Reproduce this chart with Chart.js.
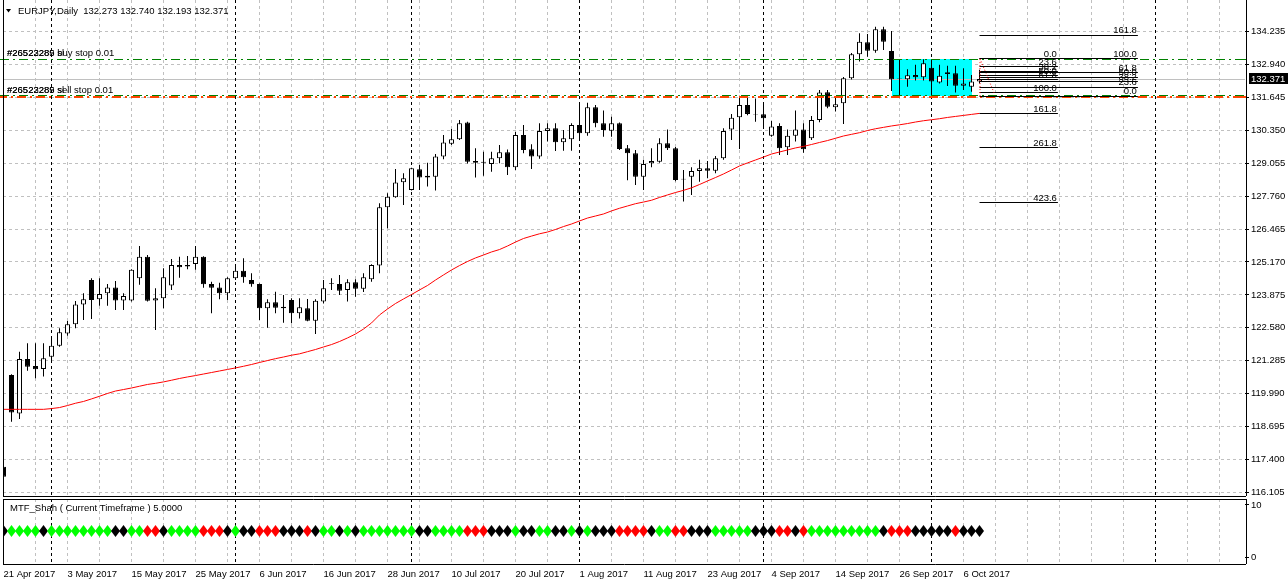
<!DOCTYPE html>
<html>
<head>
<meta charset="utf-8">
<title>EURJPY Daily</title>
<script src="https://cdn.jsdelivr.net/npm/chart.js@4.4.1/dist/chart.umd.min.js"></script>
<style>
  html, body { margin: 0; padding: 0; background: #fff; }
  #wrap { position: relative; width: 1288px; height: 585px; overflow: hidden; background: #fff; }
  canvas { position: absolute; left: 0; }
  #main { top: 0; }
  #sub { top: 497px; }
</style>
</head>
<body>
<div id="wrap">
  <canvas id="main" width="1288" height="497" style="width:1288px;height:497px"></canvas>
  <canvas id="sub" width="1288" height="88" style="width:1288px;height:88px"></canvas>
</div>
<script>
// ---- values (bar 0 = 21 Apr 2017, bar 122 = 10 Oct 2017) ----
const headerText = "EURJPY,Daily  132.273 132.740 132.193 132.371";

const opens = [
  117.11,120.72,119.21,121.35,121.08,120.96,121.44,121.87,122.36,122.72,
  123.50,124.46,123.70,123.94,124.17,123.65,123.65,124.53,125.38,123.65,
  123.74,124.24,125.05,124.99,125.09,125.38,124.30,124.17,123.94,124.53,
  124.83,124.46,124.30,123.35,123.59,123.41,123.67,123.15,123.35,122.86,
  123.61,124.31,124.30,124.07,124.37,124.12,124.49,125.03,127.32,127.72,
  128.31,128.00,128.82,128.56,128.53,129.32,129.82,130.00,130.66,129.15,
  129.12,129.03,129.25,129.49,128.90,130.17,129.61,129.32,130.33,130.43,
  129.88,130.00,130.56,130.24,131.26,130.63,130.34,130.63,129.65,129.45,
  128.53,129.06,129.12,129.84,129.65,128.45,128.53,128.75,128.86,128.76,
  129.25,130.39,130.87,131.35,131.00,130.99,130.14,130.52,129.69,130.14,
  130.39,130.04,130.76,131.85,131.26,131.42,132.40,133.35,133.82,133.49,
  134.33,133.48,132.40,132.36,132.53,132.44,132.82,132.24,132.64,132.60,
  132.11,132.07,132.273
];
const highs = [
  117.31,120.75,121.64,121.97,121.97,121.97,122.17,122.56,122.85,123.63,
  123.94,124.53,124.53,124.30,124.42,123.94,124.88,125.80,125.45,124.14,
  124.92,125.29,125.38,125.41,125.80,125.40,124.39,124.35,124.57,125.08,
  125.32,124.73,124.32,123.70,124.00,123.87,123.74,123.74,123.71,123.70,
  124.46,124.53,124.66,124.49,124.49,124.73,125.08,127.48,127.88,128.83,
  128.66,128.88,128.99,129.08,129.42,130.17,130.41,130.76,130.69,129.65,
  129.51,129.51,129.78,129.60,130.30,130.56,129.80,130.63,130.63,130.63,
  130.37,130.63,131.40,131.44,131.35,131.13,130.89,130.66,129.78,129.58,
  129.19,129.65,130.04,130.39,129.70,128.79,128.90,129.19,129.15,129.34,
  130.43,131.00,131.71,131.70,131.61,131.38,130.72,130.63,130.39,131.13,
  130.63,130.92,131.94,131.94,131.68,132.45,133.40,134.17,134.14,134.43,
  134.43,134.26,133.15,132.76,132.93,133.15,133.15,132.93,132.89,132.89,
  132.80,132.53,132.740
];
const lows = [
  116.39,118.88,118.99,120.89,120.59,120.66,121.29,121.83,122.27,122.56,
  122.89,122.93,123.45,123.45,123.28,123.28,123.61,124.27,123.61,122.49,
  123.35,124.07,124.55,124.88,124.86,124.16,123.15,123.70,123.67,124.46,
  124.35,124.20,122.89,122.58,123.15,122.78,122.76,122.95,122.84,122.34,
  123.54,124.07,123.87,123.61,123.80,123.99,124.39,124.73,126.50,127.70,
  127.41,127.98,128.00,128.14,127.98,129.21,129.78,129.97,129.05,128.50,
  128.56,128.72,129.06,128.59,128.79,129.45,128.83,129.23,129.91,129.54,
  129.55,129.55,129.97,130.14,130.47,130.10,130.10,129.58,128.39,128.20,
  128.00,128.90,129.08,129.58,128.35,127.55,127.81,128.33,128.47,128.66,
  129.19,129.97,129.62,130.95,130.69,130.50,130.10,129.38,129.38,129.91,
  129.47,129.97,130.67,131.22,131.09,130.60,132.35,133.06,133.25,133.41,
  133.51,131.90,131.74,132.07,132.31,132.31,131.74,132.20,132.10,131.84,
  131.94,131.87,132.193
];
const closes = [
  116.72,119.25,121.35,121.05,120.95,121.38,121.87,122.40,122.72,123.50,
  123.70,123.67,123.91,124.17,123.65,123.83,124.86,125.38,123.64,123.74,
  124.57,125.05,124.96,125.05,125.38,124.29,124.16,123.94,124.53,124.83,
  124.57,124.29,123.35,123.59,123.37,123.35,123.15,123.39,122.86,123.64,
  124.14,124.34,124.04,124.37,124.12,124.57,125.05,127.32,127.74,128.30,
  128.47,128.86,128.50,128.50,129.32,129.87,130.00,130.63,129.12,129.08,
  129.08,129.25,129.49,128.90,130.17,129.58,129.32,130.33,130.43,129.88,
  130.04,130.56,130.24,131.26,130.63,130.37,130.63,129.62,129.45,128.53,
  129.03,129.15,129.84,129.65,128.40,128.42,128.75,128.86,128.76,129.25,
  130.33,130.85,131.35,131.00,130.98,130.83,130.50,129.65,130.14,130.39,
  129.61,130.76,131.84,131.28,131.38,132.40,133.35,133.84,133.49,134.33,
  133.84,132.36,132.38,132.52,132.44,132.99,132.27,132.50,132.57,132.11,
  132.20,132.27,132.371
];
// red moving average
const maValues = [
  119.37,119.37,119.37,119.37,119.37,119.37,119.40,119.44,119.52,119.61,
  119.68,119.78,119.885,119.995,120.09,120.15,120.21,120.28,120.35,120.395,
  120.45,120.515,120.585,120.645,120.70,120.76,120.82,120.88,120.94,121.00,
  121.065,121.135,121.215,121.29,121.365,121.43,121.50,121.555,121.64,121.725,
  121.825,121.92,122.04,122.18,122.335,122.53,122.77,123.085,123.32,123.535,
  123.715,123.89,124.07,124.245,124.46,124.66,124.855,125.03,125.19,125.33,
  125.445,125.565,125.66,125.80,125.955,126.095,126.19,126.28,126.35,126.45,
  126.565,126.665,126.785,126.90,126.98,127.06,127.18,127.285,127.375,127.465,
  127.53,127.60,127.71,127.81,127.905,127.99,128.09,128.22,128.36,128.495,
  128.635,128.79,128.95,129.07,129.185,129.30,129.42,129.50,129.58,129.66,
  129.72,129.795,129.875,129.95,130.04,130.13,130.195,130.26,130.345,130.415,
  130.47,130.525,130.57,130.62,130.68,130.73,130.77,130.81,130.86,130.90,
  130.94,130.98,131.02
];
// MTF_Shah state per bar: g = green, r = red, k = black
const mtfState = ("kggggk gggggggg kk gg rr k gggg rrr k g kk rrr kkk r k gg k g k ggggggg kk " +
  "gggg rrr kkk g kk gg kk g k g kkk rrrr k gg rr kkk ggggg kkk rr k r ggggggggg k rrr kkkkk r kkk")
  .replace(/ /g, "").split("");
const mtfLevel = 5;

const priceTicks = [134.235, 132.940, 131.645, 130.350, 129.055, 127.760, 126.465, 125.170,
  123.875, 122.580, 121.285, 119.990, 118.695, 117.400, 116.105];
const subTicks = [0, 10];
const dateLabels = ["21 Apr 2017", "3 May 2017", "15 May 2017", "25 May 2017", "6 Jun 2017",
  "16 Jun 2017", "28 Jun 2017", "10 Jul 2017", "20 Jul 2017", "1 Aug 2017", "11 Aug 2017",
  "23 Aug 2017", "4 Sep 2017", "14 Sep 2017", "26 Sep 2017", "6 Oct 2017"];
const labelStep = 8;          // one date label every 8 bars
const gridStep = 4;           // one vertical grid line every 4 bars
const monthStarts = [6, 29, 51, 72, 95, 116, 144];

// pending orders and drawn objects
const buyStop = 133.16, sellStop = 131.70, bidPrice = 132.371;
const buyTicket = "#26522289", sellTicket = "#26523285";
const boxFromBar = 111, boxToBar = 121, boxTop = 133.16, boxBottom = 131.70;
const fibA = { fromBar: 122, toBar: 131.8, p0: 133.175, p100: 131.835, levels: [0, 23.6, 38.2, 50, 61.8, 100, 161.8, 261.8, 423.6] };
const fibB = { fromBar: 122, toBar: 141.8, p0: 131.70, p100: 133.175, levels: [0, 23.6, 38.2, 50, 61.8, 100, 161.8] };

// ---- layout ----
const FONT = '9.5px "Liberation Sans", Arial, sans-serif';
const PLOT_LEFT = 3, PLOT_RIGHT = 1245, CANVAS_W = 1288, BAR_PX = 8;
const xMin = -0.5 / BAR_PX;
const xMax = xMin + (PLOT_RIGHT - PLOT_LEFT) / BAR_PX;
const gridBars = [];
for (let b = 0; b * BAR_PX < PLOT_RIGHT; b += gridStep) gridBars.push(b);

Chart.defaults.font.family = '"Liberation Sans", Arial, sans-serif';
Chart.defaults.font.size = 9.5;
Chart.defaults.color = "#000";

function hLine(ctx, x1, x2, y) {
  const yy = Math.round(y - 0.5) + 0.5;
  ctx.beginPath(); ctx.moveTo(x1, yy); ctx.lineTo(x2, yy); ctx.stroke();
}
function vLine(ctx, x, y1, y2) {
  const xx = Math.round(x - 0.5) + 0.5;
  ctx.beginPath(); ctx.moveTo(xx, y1); ctx.lineTo(xx, y2); ctx.stroke();
}
function drawSeparators(chart) {
  const { ctx, chartArea: a, scales: { x } } = chart;
  ctx.save();
  ctx.strokeStyle = "#000"; ctx.lineWidth = 1; ctx.setLineDash([3, 3]);
  monthStarts.forEach((b) => {
    const px = x.getPixelForValue(b);
    if (px < a.right) vLine(ctx, px, a.top, a.bottom);
  });
  ctx.restore();
}
function drawFib(ctx, x, y, fib) {
  const x1 = x.getPixelForValue(fib.fromBar), x2 = x.getPixelForValue(fib.toBar);
  ctx.strokeStyle = "#000"; ctx.fillStyle = "#000"; ctx.lineWidth = 1; ctx.setLineDash([]);
  ctx.textAlign = "right"; ctx.textBaseline = "alphabetic";
  fib.levels.forEach((lv) => {
    const py = y.getPixelForValue(fib.p0 + (fib.p100 - fib.p0) * lv / 100);
    hLine(ctx, x1, x2, py);
    ctx.fillText(lv.toFixed(1), x2 - 1, Math.round(py) - 2);
  });
  // dotted trend line between the two anchors
  ctx.save();
  ctx.strokeStyle = "#ff0000"; ctx.setLineDash([1, 2]);
  ctx.beginPath();
  ctx.moveTo(x1 + 0.5, y.getPixelForValue(fib.p0));
  ctx.lineTo(x1 + 0.5 + (fib.p0 > fib.p100 ? 14 : 0), y.getPixelForValue(fib.p100));
  ctx.stroke();
  ctx.restore();
}

const mainOverlay = {
  id: "mainOverlay",
  beforeDatasetsDraw(chart) {
    const { ctx, chartArea: a, scales: { x, y } } = chart;
    ctx.save();
    ctx.beginPath(); ctx.rect(a.left, a.top, a.right - a.left, a.bottom - a.top); ctx.clip();
    const bx1 = x.getPixelForValue(boxFromBar), bx2 = x.getPixelForValue(boxToBar);
    const by1 = y.getPixelForValue(boxTop), by2 = y.getPixelForValue(boxBottom);
    ctx.fillStyle = "#00ffff";
    ctx.fillRect(Math.round(bx1), Math.round(by1), Math.round(bx2 - bx1), Math.round(by2 - by1));
    ctx.strokeStyle = "#c0c0c0"; ctx.lineWidth = 1;
    hLine(ctx, a.left, a.right, y.getPixelForValue(bidPrice));
    ctx.restore();
    drawSeparators(chart);
  },
  afterDatasetsDraw(chart) {
    const { ctx, chartArea: a, scales: { x, y } } = chart;
    ctx.save();
    ctx.font = FONT;
    // pending order lines
    const yb = y.getPixelForValue(buyStop), ys = y.getPixelForValue(sellStop);
    ctx.lineWidth = 1; ctx.strokeStyle = "#008000"; ctx.setLineDash([9, 4, 2, 4]);
    hLine(ctx, 0, a.right, yb);
    hLine(ctx, 0, a.right, ys - 1);
    ctx.lineWidth = 2; ctx.strokeStyle = "#ff4500"; ctx.setLineDash([9, 4, 2, 4]); ctx.lineDashOffset = 2;
    ctx.beginPath(); ctx.moveTo(0, Math.round(ys) + 1); ctx.lineTo(a.right, Math.round(ys) + 1); ctx.stroke();
    ctx.lineDashOffset = 0; ctx.setLineDash([]);
    ctx.fillStyle = "#000"; ctx.textAlign = "left"; ctx.textBaseline = "alphabetic";
    ctx.fillText(buyTicket + " buy stop 0.01", 7, Math.round(yb) - 3);
    ctx.fillText(sellTicket + " sl", 7, Math.round(yb) - 3);
    ctx.fillText(sellTicket + " sell stop 0.01", 7, Math.round(ys) - 3);
    ctx.fillText(buyTicket + " sl", 7, Math.round(ys) - 3);
    // fibonacci objects
    drawFib(ctx, x, y, fibA);
    drawFib(ctx, x, y, fibB);
    ctx.restore();
  },
  afterDraw(chart) {
    const { ctx, chartArea: a, scales: { y } } = chart;
    ctx.save();
    ctx.strokeStyle = "#000"; ctx.lineWidth = 1; ctx.setLineDash([]);
    vLine(ctx, a.left, 0, a.bottom + 1);
    vLine(ctx, a.right + 1, 0, a.bottom + 1);
    hLine(ctx, a.left, a.right + 1, a.bottom + 1);
    // header
    ctx.fillStyle = "#000";
    ctx.beginPath(); ctx.moveTo(6, 9); ctx.lineTo(11, 9); ctx.lineTo(8.5, 12.5); ctx.closePath(); ctx.fill();
    ctx.font = FONT; ctx.textAlign = "left"; ctx.textBaseline = "alphabetic";
    ctx.fillText(headerText, 18, 14);
    // order marks on the price axis
    ctx.fillStyle = "#008000"; ctx.fillRect(a.right - 3, Math.round(y.getPixelForValue(buyStop)), 4, 1);
    ctx.fillStyle = "#ff4500"; ctx.fillRect(a.right - 3, Math.round(y.getPixelForValue(sellStop)), 4, 2);
    // bid label
    const py = Math.round(y.getPixelForValue(bidPrice));
    ctx.fillStyle = "#000"; ctx.fillRect(a.right + 4, py - 6, CANVAS_W - a.right - 4, 11);
    ctx.fillStyle = "#fff"; ctx.textBaseline = "middle";
    ctx.fillText(bidPrice.toFixed(3), a.right + 6, py);
    ctx.restore();
  }
};

const subOverlay = {
  id: "subOverlay",
  beforeDatasetsDraw(chart) { drawSeparators(chart); },
  afterDraw(chart) {
    const { ctx, chartArea: a } = chart;
    ctx.save();
    ctx.strokeStyle = "#000"; ctx.lineWidth = 1;
    hLine(ctx, a.left, a.right + 1, a.top);
    hLine(ctx, a.left, a.right + 1, a.bottom + 1);
    vLine(ctx, a.left, a.top, a.bottom + 1);
    vLine(ctx, a.right + 1, a.top, a.bottom + 1);
    ctx.fillStyle = "#000"; ctx.font = FONT; ctx.textAlign = "left"; ctx.textBaseline = "alphabetic";
    ctx.fillText("MTF_Shah ( Current Timeframe ) " + mtfLevel.toFixed(4), 10, a.top + 12);
    ctx.restore();
  }
};

function zeroPadding(scale) {
  scale.paddingTop = 0; scale.paddingBottom = 0; scale.paddingLeft = 0; scale.paddingRight = 0;
}
function xScale(showLabels) {
  return {
    type: "linear", min: xMin, max: xMax, offset: false,
    afterBuildTicks: (s) => { s.ticks = gridBars.map((v) => ({ value: v })); },
    afterFit: (s) => { s.height = showLabels ? 22 : 2; zeroPadding(s); },
    ticks: {
      display: showLabels, autoSkip: false, maxRotation: 0, minRotation: 0, align: "start", padding: 6, color: "#000",
      callback: (v) => (v % labelStep === 0 && dateLabels[v / labelStep]) ? dateLabels[v / labelStep] : ""
    },
    grid: { color: "#c0c0c0", lineWidth: 1, drawTicks: false, offset: false },
    border: { display: false, dash: [3, 3] }
  };
}

const mainChart = new Chart(document.getElementById("main"), {
  type: "bar",
  data: {
    datasets: [
      {
        type: "line", label: "MA", data: maValues.map((v, i) => ({ x: i, y: v })),
        borderColor: "#ff0000", borderWidth: 1, pointRadius: 0, tension: 0, fill: false
      },
      {
        type: "bar", label: "body", data: opens.map((o, i) => ({ x: i, y: [o, closes[i]] })),
        barThickness: 5, grouped: false, inflateAmount: 0, borderSkipped: false,
        borderWidth: 1, borderColor: "#000",
        backgroundColor: (c) => closes[c.dataIndex] >= opens[c.dataIndex] ? "#ffffff" : "#000000"
      },
      {
        type: "bar", label: "wick", data: lows.map((l, i) => ({ x: i, y: [l, highs[i]] })),
        barThickness: 1, grouped: false, inflateAmount: 0, borderWidth: 0, backgroundColor: "#000"
      }
    ]
  },
  options: {
    responsive: false, animation: false, events: [], devicePixelRatio: 1,
    layout: { autoPadding: false, padding: { left: PLOT_LEFT, top: 0, right: 0, bottom: 0 } },
    plugins: { legend: { display: false }, tooltip: { enabled: false } },
    scales: {
      x: xScale(false),
      y: {
        type: "linear", position: "right", min: 115.998, max: 135.483,
        afterBuildTicks: (s) => { s.ticks = priceTicks.map((v) => ({ value: v })); },
        afterFit: (s) => { s.width = CANVAS_W - PLOT_RIGHT; zeroPadding(s); },
        ticks: { autoSkip: false, padding: 2, color: "#000", callback: (v) => v.toFixed(3) },
        grid: { color: "#c0c0c0", tickColor: "#000", tickLength: 4, tickWidth: 1 },
        border: { display: false, dash: [3, 3] }
      }
    }
  },
  plugins: [mainOverlay]
});

function diamond(color) {
  const c = document.createElement("canvas");
  c.width = 9; c.height = 12;
  const g = c.getContext("2d");
  g.fillStyle = color;
  g.beginPath(); g.moveTo(4.5, 0); g.lineTo(9, 6); g.lineTo(4.5, 12); g.lineTo(0, 6); g.closePath(); g.fill();
  return c;
}
const diamonds = { g: diamond("#00ff00"), r: diamond("#ff0000"), k: diamond("#000000") };

const subChart = new Chart(document.getElementById("sub"), {
  type: "line",
  data: {
    datasets: [{
      label: "MTF_Shah", data: mtfState.map((s, i) => ({ x: i, y: mtfLevel })),
      showLine: false, pointRadius: 5, pointStyle: (c) => diamonds[mtfState[c.dataIndex]]
    }]
  },
  options: {
    responsive: false, animation: false, events: [], devicePixelRatio: 1,
    layout: { autoPadding: false, padding: { left: PLOT_LEFT, top: 2, right: 0, bottom: 0 } },
    plugins: { legend: { display: false }, tooltip: { enabled: false } },
    scales: {
      x: xScale(true),
      y: {
        type: "linear", position: "right", min: -1.1538, max: 11.1538,
        afterBuildTicks: (s) => { s.ticks = subTicks.map((v) => ({ value: v })); },
        afterFit: (s) => { s.width = CANVAS_W - PLOT_RIGHT; zeroPadding(s); },
        ticks: { autoSkip: false, padding: 2, color: "#000", callback: (v) => String(v) },
        grid: { drawOnChartArea: false, tickColor: "#000", tickLength: 4 },
        border: { display: false }
      }
    }
  },
  plugins: [subOverlay]
});
</script>
</body>
</html>
